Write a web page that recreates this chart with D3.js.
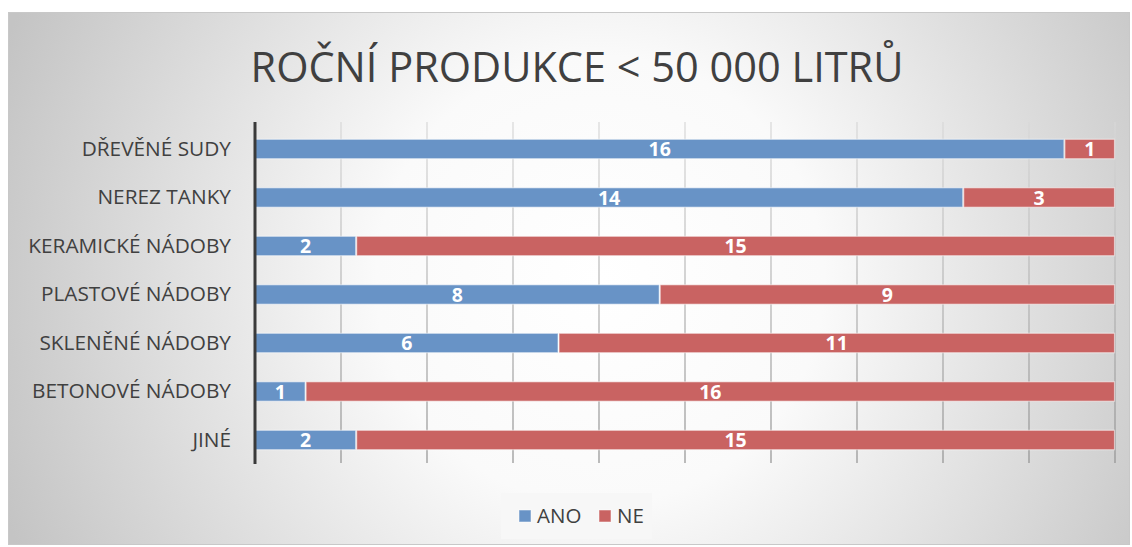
<!DOCTYPE html>
<html><head><meta charset="utf-8">
<script src="https://cdn.jsdelivr.net/npm/d3@7"></script>
<style>body{margin:0;background:#fff;font-family:"Open Sans",sans-serif;}</style>
</head><body>
<svg id="c" width="1132" height="547"></svg>
<script>
const categories = ["DŘEVĚNÉ SUDY","NEREZ TANKY","KERAMICKÉ NÁDOBY","PLASTOVÉ NÁDOBY","SKLENĚNÉ NÁDOBY","BETONOVÉ NÁDOBY","JINÉ"];
const ano = [16,14,2,8,6,1,2];
const ne = [1,3,15,9,11,16,15];
const seriesNames = ["ANO","NE"];
const colors = ["#6893c6","#c96362"];
const title = "ROČNÍ PRODUKCE < 50 000 LITRŮ";

const svg = d3.select("#c");
const defs = svg.append("defs");
const rg = defs.append("radialGradient").attr("id","bg")
  .attr("gradientUnits","userSpaceOnUse").attr("cx",600).attr("cy",280).attr("r",640);
rg.append("stop").attr("offset","0").attr("stop-color","#ffffff");
rg.append("stop").attr("offset","0.35").attr("stop-color","#fafafa");
rg.append("stop").attr("offset","1").attr("stop-color","#c4c4c4");
const lg = defs.append("linearGradient").attr("id","grid")
  .attr("gradientUnits","userSpaceOnUse").attr("x1",0).attr("y1",122).attr("x2",0).attr("y2",463);
lg.append("stop").attr("offset","0").attr("stop-color","#d8d8d8");
lg.append("stop").attr("offset","1").attr("stop-color","#909090");

svg.append("rect").attr("x",8.5).attr("y",12.5).attr("width",1121).attr("height",532)
  .attr("fill","url(#bg)").attr("stroke","#c8c8c8");

const x = d3.scaleLinear().domain([0,17]).range([255,1115]);
const y = d3.scaleBand().domain(categories).range([124.75,464.25]).paddingInner(0.6).paddingOuter(0.3);

// gridlines
const gridVals = d3.range(0,11).map(i=>i*1.7);
svg.append("g").selectAll("line").data(gridVals.slice(1)).join("line")
  .attr("x1",d=>x(d)).attr("x2",d=>x(d)).attr("y1",122).attr("y2",463)
  .attr("stroke","url(#grid)").attr("stroke-width",1.2);

// title
svg.append("text").attr("x",577).attr("y",82).attr("text-anchor","middle")
  .attr("font-size",41.5).attr("fill","#404040").text(title);

const rows = categories.map((c,i)=>({c, vals:[ano[i],ne[i]]}));
const g = svg.append("g");
rows.forEach(r=>{
  let acc=0;
  r.vals.forEach((v,k)=>{
    const x0=x(acc), x1=x(acc+v);
    g.append("rect").attr("x",x0+0.5).attr("y",y(r.c)).attr("width",x1-x0-1).attr("height",y.bandwidth())
      .attr("fill",colors[k]).attr("stroke","rgba(255,255,255,0.5)").attr("stroke-width",1.2);
    g.append("text").attr("x",(x0+x1)/2).attr("y",y(r.c)+y.bandwidth()/2).attr("dy","0.36em")
      .attr("text-anchor","middle").attr("font-size",19.5).attr("font-weight","bold").attr("fill","#fff").text(v);
    acc+=v;
  });
});

// category axis
const ax = svg.append("g").attr("transform","translate(255,0)").call(d3.axisLeft(y).tickSize(0).tickPadding(24));
ax.select(".domain").remove();
ax.selectAll("text").attr("font-size",20.8).attr("fill","#404040").attr("font-family","Open Sans");
svg.append("line").attr("x1",255).attr("x2",255).attr("y1",122).attr("y2",464)
  .attr("stroke","#3a3a3a").attr("stroke-width",3);

// legend
const leg = svg.append("g");
leg.append("rect").attr("x",501).attr("y",493).attr("width",151).attr("height",46).attr("fill","#f7f7f7");
const li = [{n:seriesNames[0],x:519,c:colors[0]},{n:seriesNames[1],x:599,c:colors[1]}];
li.forEach(d=>{
  leg.append("rect").attr("x",d.x).attr("y",510).attr("width",12).attr("height",12).attr("fill",d.c)
    .attr("stroke","rgba(255,255,255,0.5)");
  leg.append("text").attr("x",d.x+18).attr("y",516).attr("dy","0.36em").attr("font-size",20.5)
    .attr("fill","#404040").text(d.n);
});
</script>
</body></html>
